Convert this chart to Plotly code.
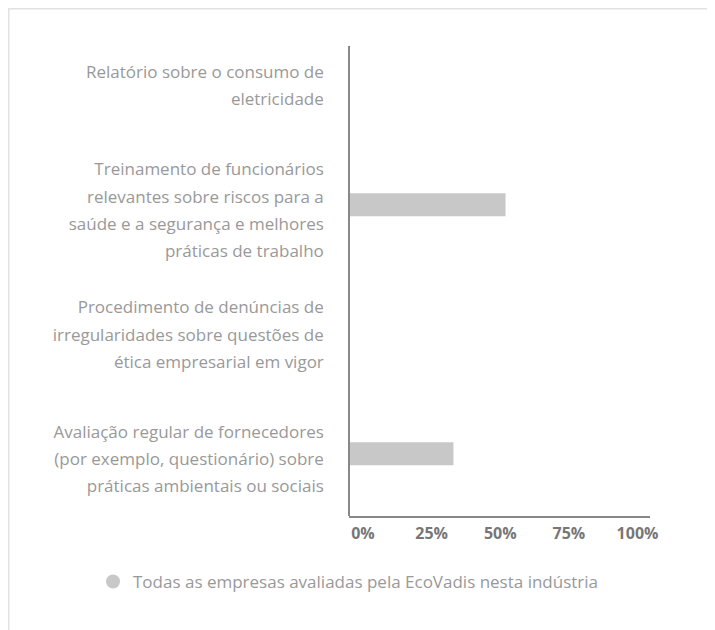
import plotly.graph_objects as go

categories = [
    "Relatório sobre o consumo de<br>eletricidade",
    "Treinamento de funcionários<br>relevantes sobre riscos para a<br>saúde e a segurança e melhores<br>práticas de trabalho",
    "Procedimento de denúncias de<br>irregularidades sobre questões de<br>ética empresarial em vigor",
    "Avaliação regular de fornecedores<br>(por exemplo, questionário) sobre<br>práticas ambientais ou sociais",
]
values = [0, 52, 0, 34.7]
tick_vals = [0, 25, 50, 75, 100]
tick_text = ["0%", "25%", "50%", "75%", "100%"]
series_name = "Todas as empresas avaliadas pela EcoVadis nesta indústria"

W, H = 715, 630
L, R, T, B = 341, 73, 10, 122
pw, ph = W - L - R, H - T - B

def px_x(x):
    return (x - L) / pw

def px_y(y):
    return (H - B - y) / ph

BAR = "#c8c8c8"
FONT = "Open Sans"
LABEL_PX = 17

def styled(label):
    return "<br>".join(
        f'<span style="font-size:{LABEL_PX}px">{part}</span>' for part in label.split("<br>")
    )

tick_labels_y = [styled(c) for c in categories]

fig = go.Figure()
fig.add_trace(go.Bar(
    y=categories, x=values, orientation="h", marker=dict(color=BAR, line=dict(width=0)),
    showlegend=False, hoverinfo="skip",
))
fig.add_trace(go.Scatter(
    x=[None], y=[None], mode="markers", name=series_name,
    marker=dict(symbol="circle", size=14, color=BAR), showlegend=True,
))
# axis used only to place the percent labels
fig.add_trace(go.Scatter(
    x=[None], y=[None], xaxis="x2", yaxis="y", mode="markers", showlegend=False,
    hoverinfo="skip",
))

fig.update_layout(
    width=W, height=H,
    template="none",
    paper_bgcolor="white", plot_bgcolor="rgba(0,0,0,0)",
    margin=dict(l=L, r=R, t=T, b=B, autoexpand=False),
    bargap=0.815,
    font=dict(family=FONT, size=17, color="#999999"),
    xaxis=dict(
        range=[0, 100], domain=[0, 1], showgrid=False, zeroline=False,
        showline=True, linecolor="#888888", linewidth=2,
        showticklabels=False, ticks="", automargin=False, fixedrange=True,
    ),
    xaxis2=dict(
        range=[0, 100], domain=[px_x(355), px_x(629.5)], anchor="free", position=0,
        showgrid=False, zeroline=False, showline=False,
        tickvals=tick_vals, ticktext=tick_text,
        ticks="outside", ticklen=3, tickcolor="rgba(0,0,0,0)",
        tickfont=dict(family=FONT, size=16, color="#777777", weight="bold"),
        automargin=False,
    ),
    yaxis=dict(
        type="category", categoryorder="array", categoryarray=categories,
        tickvals=categories, ticktext=tick_labels_y,
        autorange="reversed", showgrid=False, zeroline=False, showline=False,
        ticks="outside", ticklen=20, tickcolor="rgba(0,0,0,0)",
        tickfont=dict(family=FONT, size=20.8, color="#999999"),
        ticklabelshift=-4,
        automargin=False,
    ),
    legend=dict(
        orientation="h", x=px_x(85), xanchor="left", y=px_y(556), yanchor="top",
        font=dict(family=FONT, size=17, color="#999999"), bgcolor="rgba(0,0,0,0)",
    ),
    shapes=[
        dict(type="rect", xref="paper", yref="paper",
             x0=px_x(0.5), x1=px_x(740), y0=px_y(660), y1=px_y(0.5),
             line=dict(color="#e2e2e2", width=2), fillcolor="rgba(0,0,0,0)", layer="below"),
        dict(type="line", xref="paper", yref="paper",
             x0=0, x1=0, y0=0, y1=px_y(38),
             line=dict(color="#888888", width=2)),
    ],
)

fig.write_html("out.html")
